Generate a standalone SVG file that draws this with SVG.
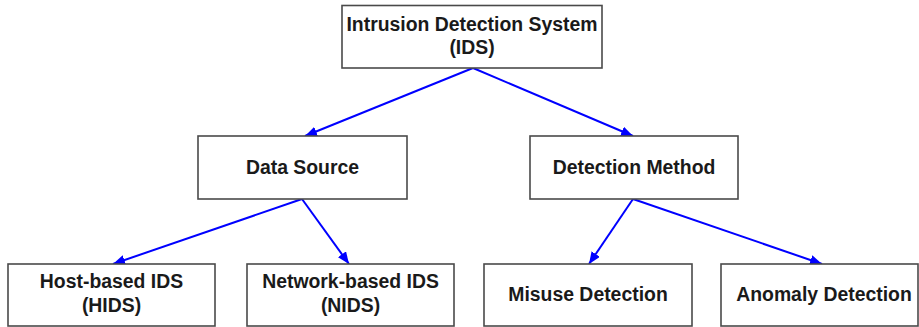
<svg xmlns="http://www.w3.org/2000/svg" width="919" height="327" viewBox="0 0 919 327">
<style>
.box{fill:#ffffff;stroke:#4a4a4a;stroke-width:1.6}
.t{font-family:"Liberation Sans",Arial,sans-serif;font-weight:bold;font-size:19.4px;fill:#1a1a1a;text-anchor:middle}
.c{stroke:#0000ff;stroke-width:2;fill:none;marker-end:url(#ah)}
</style>
<defs>
<marker id="ah" viewBox="0 0 12 10" refX="12" refY="5" markerWidth="12" markerHeight="10" markerUnits="userSpaceOnUse" orient="auto">
<path d="M0,0 L12,5 L0,10 Z" fill="#0000ff"/>
</marker>
</defs>
<rect width="919" height="327" fill="#ffffff"/>
<g id="connectors">
<line class="c" x1="473" y1="68" x2="305" y2="136"/>
<line class="c" x1="473" y1="68" x2="633" y2="136"/>
<line class="c" x1="302" y1="199" x2="113" y2="264"/>
<line class="c" x1="302" y1="199" x2="349" y2="264"/>
<line class="c" x1="633" y1="199" x2="589" y2="264"/>
<line class="c" x1="633" y1="199" x2="822" y2="264"/>
</g>
<g id="ids">
<rect class="box" x="342" y="5.5" width="260" height="62.5"/>
<text class="t" x="472" y="31">Intrusion Detection System</text>
<text class="t" x="472" y="54">(IDS)</text>
</g>
<g id="datasource">
<rect class="box" x="198" y="136" width="209" height="63"/>
<text class="t" x="302.5" y="174">Data Source</text>
</g>
<g id="detectionmethod">
<rect class="box" x="530" y="136" width="208" height="63"/>
<text class="t" x="634" y="174">Detection Method</text>
</g>
<g id="hids">
<rect class="box" x="8" y="264" width="207" height="62"/>
<text class="t" x="111.5" y="288">Host-based IDS</text>
<text class="t" x="111.5" y="312">(HIDS)</text>
</g>
<g id="nids">
<rect class="box" x="247" y="264" width="207" height="62"/>
<text class="t" x="350.5" y="288">Network-based IDS</text>
<text class="t" x="350.5" y="312">(NIDS)</text>
</g>
<g id="misuse">
<rect class="box" x="484" y="264" width="208" height="62"/>
<text class="t" x="588" y="301">Misuse Detection</text>
</g>
<g id="anomaly">
<rect class="box" x="721" y="264" width="197" height="62"/>
<text class="t" x="824" y="301">Anomaly Detection</text>
</g>
</svg>
